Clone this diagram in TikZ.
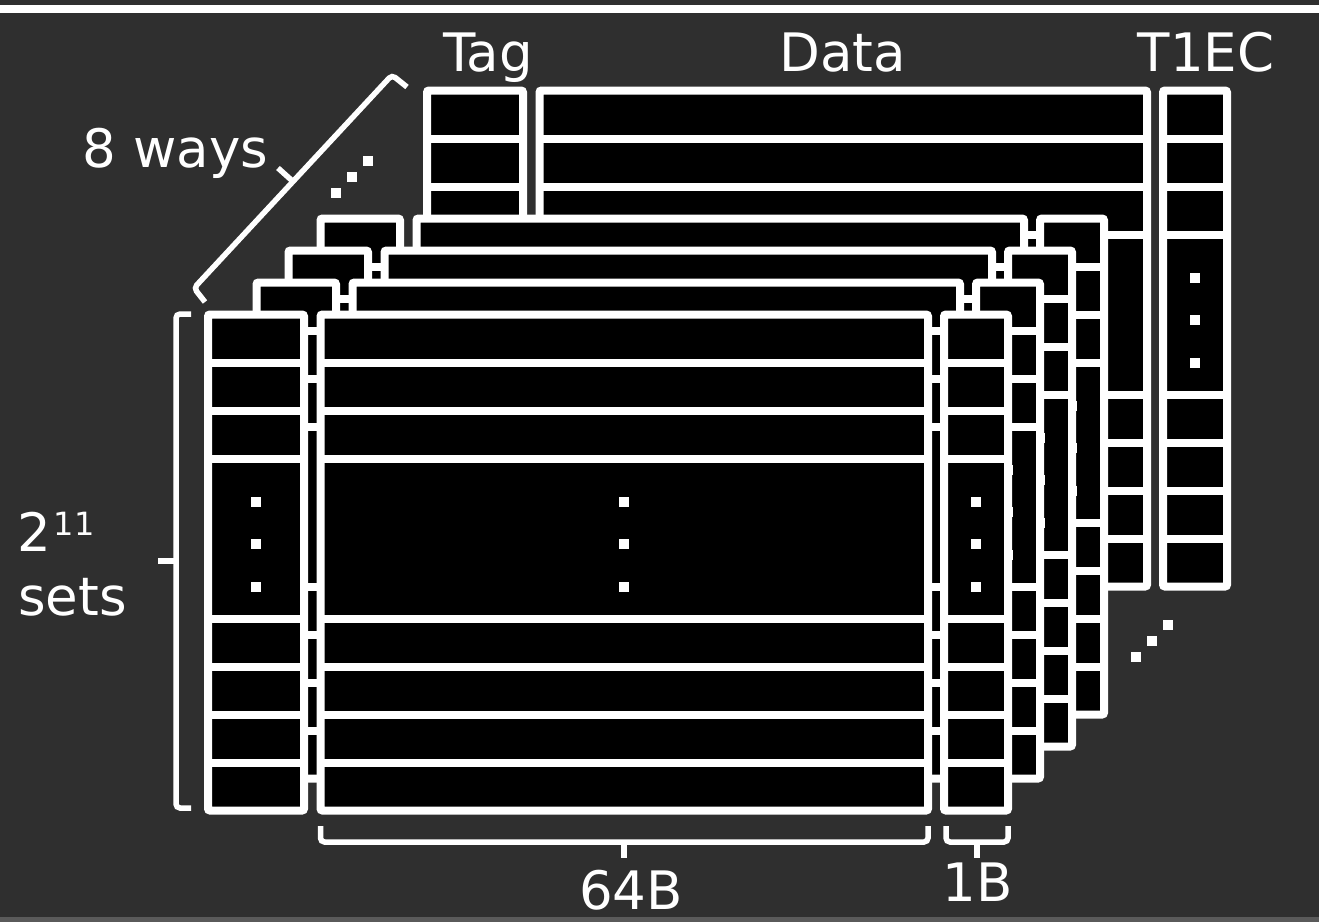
\documentclass[tikz,border=0pt]{standalone}
\usepackage{fontspec}
\setmainfont{DejaVu Sans}
\definecolor{bg}{RGB}{47,47,47}
\definecolor{edgegray}{RGB}{90,90,90}
\tikzset{
  rowline/.style={draw=white,line width=8pt},
  colborder/.style={draw=white,line width=8pt,rounded corners=2pt},
  bracepath/.style={draw=white,line width=5.5pt,rounded corners=4pt},
  lbl/.style={text=white,inner sep=0pt,font=\fontsize{53}{60}\selectfont},
  dotsq/.style={fill=white}
}
% one column of a way, in front-way coordinates
\newcommand\wcol[2]{%
  \fill[black,rounded corners=2pt] (#1,314.5) rectangle (#2,810.5);
  \foreach \yy in {362.5,410.5,458.5,618.5,666.5,714.5,762.5}{\draw[rowline] (#1,\yy) -- (#2,\yy);}
  \draw[colborder] (#1,314.5) rectangle (#2,810.5);
  \foreach \yy in {501.5,544,586.5}{\fill[dotsq] ({(#1+#2)/2-5},{\yy-5}) rectangle ++(10,10);}
}
% one way: shift x, shift y, left edge of tag column
\newcommand\cacheway[3]{%
  \begin{scope}[shift={(#1,#2)}]
    \wcol{#3}{304}\wcol{320.5}{928}\wcol{944}{1008}
  \end{scope}}
\begin{document}
\begin{tikzpicture}[x=1pt,y=-1pt]
\useasboundingbox (0,0) rectangle (1319,922);
\fill[bg] (0,0) rectangle (1319,922);
\fill[white] (0,5) rectangle (1319,12.5);
\fill[edgegray] (0,916.5) rectangle (1319,922);

% ways, back to front
\cacheway{219}{-224}{208}
\cacheway{96}{-96}{224.5}
\cacheway{64}{-64}{224.5}
\cacheway{32}{-32}{224.5}
\cacheway{0}{0}{208}

% ellipsis dots between ways
\foreach \cx/\cy in {336/193,352/177,368/161,1136/657,1152/641,1168/625}{
  \fill[dotsq] (\cx-5,\cy-5) rectangle ++(10,10);}

% braces
\coordinate (wA) at (194,288);
\coordinate (wB) at (392,75);
\draw[bracepath] (205,302) -- (wA) -- (wB) -- (407,87);
\draw[bracepath] (293,181.5) -- (278,168);

\draw[bracepath] (191,314) -- (176,314) -- (176,808) -- (191,808);
\draw[bracepath] (176,561) -- (158,561);

\draw[bracepath] (320.5,826) -- (320.5,842) -- (928,842) -- (928,826);
\draw[bracepath] (624,842) -- (624,858);
\draw[bracepath] (946,826) -- (946,842) -- (1008,842) -- (1008,826);
\draw[bracepath] (977,842) -- (977,858);

% labels
\node[lbl,anchor=base] (tag) at (488,71) {Tag};
\node[lbl,anchor=base] (data) at (842.5,71) {Data};
\node[lbl,anchor=base] (t1ec) at (1206,71) {T1EC};
\node[lbl,anchor=base] (ways) at (175.5,167) {8 ways};
\node[lbl,anchor=base west] (setsA) at (17,551.7) {2\kern3pt\raisebox{16.7pt}{\fontsize{32}{32}\selectfont 11}};
\node[lbl,anchor=base west] (setsB) at (18,615) {sets};
\node[lbl,anchor=base] (b64) at (631,909) {64B};
\node[lbl,anchor=base] (b1) at (977.5,901) {1B};
\end{tikzpicture}
\end{document}
